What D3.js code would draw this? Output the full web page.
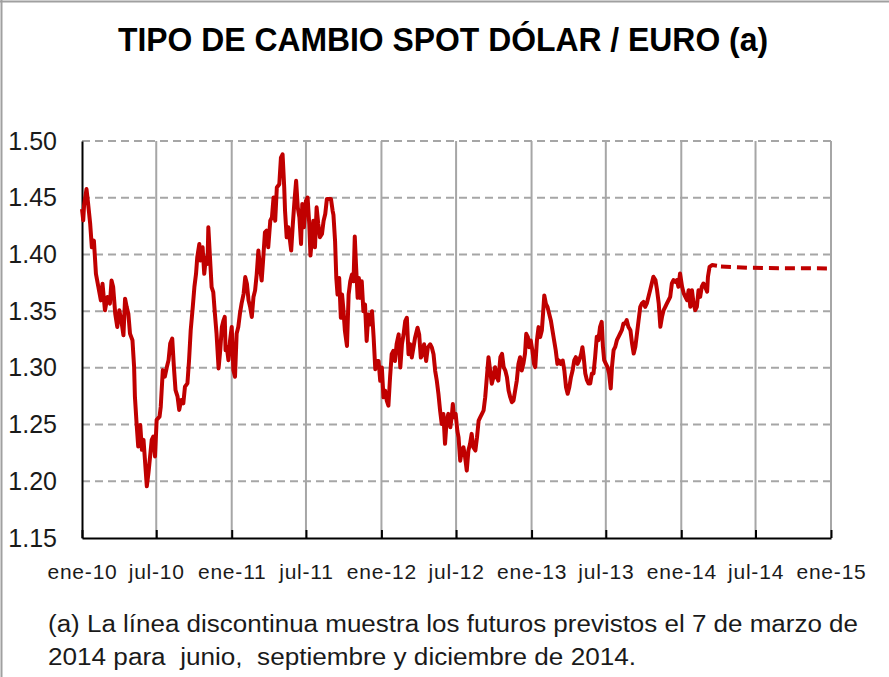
<!DOCTYPE html>
<html><head><meta charset="utf-8">
<script src="https://cdn.jsdelivr.net/npm/d3@7"></script>
<style>
html,body{margin:0;padding:0;background:#fff;}
svg{display:block;}
text{font-family:"Liberation Sans",Arial,Helvetica,sans-serif;}
</style></head>
<body>
<svg id="chart" width="889" height="677"></svg>
<script>
const dates = [
"2010-01-01","2010-01-04","2010-01-06","2010-01-12","2010-01-16","2010-01-21","2010-01-25","2010-01-30","2010-02-01","2010-02-04",
"2010-02-10","2010-02-16","2010-02-20","2010-02-26","2010-03-04","2010-03-10","2010-03-14","2010-03-18","2010-03-23","2010-03-28",
"2010-04-02","2010-04-08","2010-04-12","2010-04-16","2010-04-20","2010-04-24","2010-04-28","2010-05-04","2010-05-08","2010-05-10",
"2010-05-14","2010-05-18","2010-05-23","2010-05-27","2010-05-31","2010-06-04","2010-06-08","2010-06-12","2010-06-16","2010-06-20",
"2010-06-24","2010-06-28","2010-07-02","2010-07-09","2010-07-12","2010-07-17","2010-07-22","2010-07-27","2010-07-31","2010-08-04",
"2010-08-09","2010-08-13","2010-08-17","2010-08-22","2010-08-26","2010-08-31","2010-09-05","2010-09-09","2010-09-15","2010-09-19",
"2010-09-23","2010-09-28","2010-10-02","2010-10-06","2010-10-09","2010-10-14","2010-10-17","2010-10-22","2010-10-26","2010-10-30",
"2010-11-03","2010-11-05","2010-11-09","2010-11-13","2010-11-17","2010-11-21","2010-11-25","2010-11-30","2010-12-04","2010-12-08",
"2010-12-12","2010-12-15","2010-12-17","2010-12-20","2010-12-24","2010-12-28","2011-01-01","2011-01-05","2011-01-09","2011-01-13",
"2011-01-17","2011-01-21","2011-01-25","2011-01-30","2011-02-03","2011-02-07","2011-02-11","2011-02-15","2011-02-19","2011-02-23",
"2011-02-27","2011-03-03","2011-03-07","2011-03-11","2011-03-15","2011-03-19","2011-03-23","2011-03-27","2011-03-31","2011-04-05",
"2011-04-09","2011-04-13","2011-04-17","2011-04-21","2011-04-27","2011-05-01","2011-05-05","2011-05-09","2011-05-11","2011-05-15",
"2011-05-19","2011-05-23","2011-05-26","2011-05-30","2011-06-03","2011-06-07","2011-06-11","2011-06-15","2011-06-19","2011-06-22",
"2011-06-26","2011-07-01","2011-07-05","2011-07-09","2011-07-12","2011-07-15","2011-07-19","2011-07-23","2011-07-27","2011-07-31",
"2011-08-04","2011-08-09","2011-08-13","2011-08-17","2011-08-21","2011-08-26","2011-08-31","2011-09-04","2011-09-06","2011-09-10",
"2011-09-13","2011-09-16","2011-09-20","2011-09-24","2011-09-27","2011-09-30","2011-10-04","2011-10-09","2011-10-13","2011-10-17",
"2011-10-21","2011-10-25","2011-10-28","2011-10-31","2011-11-04","2011-11-07","2011-11-10","2011-11-14","2011-11-18","2011-11-22",
"2011-11-26","2011-11-30","2011-12-04","2011-12-09","2011-12-13","2011-12-17","2011-12-21","2011-12-25","2011-12-29","2012-01-02",
"2012-01-06","2012-01-10","2012-01-14","2012-01-18","2012-01-22","2012-01-26","2012-01-30","2012-02-03","2012-02-07","2012-02-12",
"2012-02-16","2012-02-20","2012-02-24","2012-02-28","2012-03-03","2012-03-07","2012-03-11","2012-03-15","2012-03-19","2012-03-23",
"2012-03-29","2012-04-02","2012-04-06","2012-04-10","2012-04-14","2012-04-19","2012-04-23","2012-04-29","2012-05-03","2012-05-07",
"2012-05-11","2012-05-15","2012-05-19","2012-05-23","2012-05-27","2012-05-31","2012-06-04","2012-06-08","2012-06-12","2012-06-17",
"2012-06-21","2012-06-23","2012-06-26","2012-06-30","2012-07-04","2012-07-07","2012-07-11","2012-07-15","2012-07-19","2012-07-23",
"2012-07-27","2012-07-31","2012-08-04","2012-08-08","2012-08-12","2012-08-17","2012-08-21","2012-08-25","2012-08-29","2012-09-02",
"2012-09-06","2012-09-10","2012-09-14","2012-09-18","2012-09-22","2012-09-26","2012-09-30","2012-10-04","2012-10-08","2012-10-12",
"2012-10-17","2012-10-21","2012-10-25","2012-10-29","2012-11-02","2012-11-06","2012-11-10","2012-11-14","2012-11-18","2012-11-22",
"2012-11-26","2012-11-30","2012-12-04","2012-12-08","2012-12-12","2012-12-16","2012-12-19","2012-12-23","2012-12-26","2012-12-30",
"2013-01-03","2013-01-07","2013-01-10","2013-01-14","2013-01-18","2013-01-22","2013-01-26","2013-01-29","2013-02-01","2013-02-05",
"2013-02-09","2013-02-13","2013-02-17","2013-02-21","2013-02-25","2013-03-01","2013-03-05","2013-03-09","2013-03-13","2013-03-18",
"2013-03-22","2013-03-26","2013-03-30","2013-04-03","2013-04-07","2013-04-11","2013-04-15","2013-04-19","2013-04-23","2013-04-27",
"2013-05-02","2013-05-05","2013-05-08","2013-05-12","2013-05-16","2013-05-20","2013-05-24","2013-05-28","2013-06-01","2013-06-05",
"2013-06-09","2013-06-13","2013-06-17","2013-06-21","2013-06-24","2013-06-27","2013-07-01","2013-07-05","2013-07-09","2013-07-13",
"2013-07-16","2013-07-20","2013-07-24","2013-07-28","2013-08-01","2013-08-05","2013-08-09","2013-08-13","2013-08-17","2013-08-21",
"2013-08-25","2013-08-30","2013-09-03","2013-09-07","2013-09-11","2013-09-15","2013-09-19","2013-09-23","2013-09-27","2013-10-01",
"2013-10-05","2013-10-09","2013-10-13","2013-10-17","2013-10-21","2013-10-25","2013-10-30","2013-11-03","2013-11-07","2013-11-11",
"2013-11-15","2013-11-19","2013-11-23","2013-11-27","2013-12-01","2013-12-05","2013-12-09","2013-12-13","2013-12-17","2013-12-21",
"2013-12-25","2013-12-29","2014-01-03","2014-01-07","2014-01-11","2014-01-15","2014-01-19","2014-01-23","2014-01-27","2014-01-31",
"2014-02-04","2014-02-08","2014-02-12","2014-02-16","2014-02-20","2014-02-24","2014-02-28","2014-03-05","2014-03-07","2014-03-11",
"2014-03-17","2014-03-29"
];
const values = [
1.440,1.430,1.443,1.4576,1.4444,1.4268,1.4063,1.4122,1.4005,1.3829,
1.3712,1.3595,1.3741,1.3507,1.3624,1.3566,1.3770,1.3712,1.3478,1.3361,
1.3507,1.3390,1.3287,1.3610,1.3536,1.3478,1.3302,1.3244,1.3009,1.2746,
1.2512,1.2307,1.2497,1.2278,1.2365,1.2160,1.1956,1.2073,1.2219,1.2365,
1.2395,1.2219,1.2541,1.2570,1.2658,1.2980,1.2922,1.3009,1.3068,1.3214,
1.3258,1.3009,1.2804,1.2746,1.2629,1.2717,1.2687,1.2834,1.2863,1.3068,
1.3331,1.3536,1.3712,1.3829,1.3975,1.4092,1.3946,1.4063,1.3829,1.3975,
1.3917,1.4239,1.3975,1.3712,1.3668,1.3478,1.3302,1.2995,1.3156,1.3361,
1.3419,1.3449,1.3156,1.3185,1.3068,1.3244,1.3361,1.2980,1.2922,1.3302,
1.3361,1.3478,1.3566,1.3653,1.3800,1.3741,1.3595,1.3536,1.3449,1.3624,
1.3683,1.3829,1.4034,1.3888,1.3770,1.3975,1.4195,1.4210,1.4063,1.4297,
1.4327,1.4502,1.4297,1.4590,1.4619,1.4854,1.4883,1.4590,1.4385,1.4151,
1.4239,1.4122,1.4034,1.4268,1.4473,1.4649,1.4415,1.4327,1.4092,1.4444,
1.4239,1.4473,1.4502,1.4268,1.3990,1.4122,1.4297,1.4063,1.4415,1.4268,
1.4151,1.4180,1.4297,1.4356,1.4488,1.4488,1.4488,1.4385,1.4348,1.4114,
1.3792,1.3646,1.3792,1.3442,1.3646,1.3529,1.3325,1.3193,1.3646,1.3763,
1.3822,1.3763,1.4158,1.3909,1.3617,1.3792,1.3617,1.3763,1.3500,1.3558,
1.3237,1.3471,1.3383,1.3500,1.3266,1.2988,1.3061,1.3061,1.2886,1.3003,
1.2740,1.2798,1.2711,1.2667,1.2915,1.3120,1.3149,1.3061,1.3208,1.3295,
1.3003,1.3208,1.3295,1.3412,1.3442,1.3120,1.3208,1.3091,1.3178,1.3266,
1.3354,1.3295,1.3091,1.3120,1.3208,1.3061,1.3178,1.3208,1.3178,1.3120,
1.2974,1.2886,1.2769,1.2623,1.2506,1.2594,1.2330,1.2535,1.2594,1.2477,
1.2594,1.2681,1.2564,1.2594,1.2447,1.2388,1.2182,1.2271,1.2300,1.2212,
1.2094,1.2271,1.2329,1.2418,1.2300,1.2271,1.2388,1.2535,1.2565,1.2594,
1.2624,1.2741,1.2918,1.3094,1.2976,1.2859,1.2918,1.3006,1.2918,1.2888,
1.3094,1.3124,1.3006,1.2976,1.2918,1.2800,1.2741,1.2697,1.2712,1.2800,
1.2888,1.3035,1.3094,1.2976,1.3035,1.3124,1.3300,1.3271,1.3182,1.3241,
1.3153,1.3035,1.3006,1.3241,1.3359,1.3271,1.3329,1.3476,1.3638,1.3565,
1.3535,1.3476,1.3418,1.3329,1.3241,1.3153,1.3035,1.3065,1.3035,1.3065,
1.2976,1.2829,1.2771,1.2829,1.2918,1.2976,1.3065,1.3094,1.3035,1.3065,
1.3124,1.3182,1.3097,1.2950,1.2891,1.2862,1.2862,1.2950,1.2950,1.3097,
1.3274,1.3244,1.3362,1.3406,1.3185,1.3068,1.3038,1.3009,1.2950,1.2818,
1.3009,1.3156,1.3185,1.3244,1.3274,1.3303,1.3332,1.3391,1.3391,1.3421,
1.3362,1.3332,1.3215,1.3126,1.3185,1.3303,1.3421,1.3538,1.3568,1.3582,
1.3538,1.3568,1.3626,1.3685,1.3744,1.3803,1.3774,1.3685,1.3568,1.3362,
1.3450,1.3509,1.3538,1.3568,1.3597,1.3626,1.3744,1.3774,1.3759,1.3774,
1.3715,1.3832,1.3715,1.3656,1.3626,1.3597,1.3685,1.3538,1.3685,1.3568,
1.3509,1.3538,1.3685,1.3626,1.3715,1.3744,1.3715,1.3671,1.3803,1.3891,
1.3906,1.3900
];
const forecastDates = ["2014-03-29","2014-06-15","2014-09-15","2014-12-23"];
const forecastValues = [1.3895,1.3882,1.3878,1.3877];
const xTickDates = ["2010-01-01","2010-07-01","2011-01-01","2011-07-01","2012-01-01","2012-07-01","2013-01-01","2013-07-01","2014-01-01","2014-07-01","2015-01-01"];
const xTickLabels = ["ene-10","jul-10","ene-11","jul-11","ene-12","jul-12","ene-13","jul-13","ene-14","jul-14","ene-15"];
const yTicks = [1.15,1.20,1.25,1.30,1.35,1.40,1.45,1.50];
const title = "TIPO DE CAMBIO SPOT DÓLAR / EURO (a)";
const noteLines = ["(a) La línea discontinua muestra los futuros previstos el 7 de marzo de",
                   "2014 para  junio,  septiembre y diciembre de 2014."];

const parse = d3.timeParse("%Y-%m-%d");
const series = dates.map((d,i)=>({date:parse(d), value:values[i]}));
const forecast = forecastDates.map((d,i)=>({date:parse(d), value:forecastValues[i]}));

const svg = d3.select("#chart");
const margin = {left:82, right:58, top:141, bottom:139};
const W = 889, H = 677;
const x = d3.scaleTime().domain([parse("2010-01-01"), parse("2015-01-01")]).range([margin.left, W - margin.right]);
const y = d3.scaleLinear().domain([1.15, 1.50]).range([H - margin.bottom, margin.top]);

// frame lines
svg.append("line").attr("x1",0).attr("x2",W).attr("y1",1.5).attr("y2",1.5).attr("stroke","#a0a0a0").attr("stroke-width",2);
svg.append("line").attr("x1",1.5).attr("x2",1.5).attr("y1",0).attr("y2",H).attr("stroke","#a0a0a0").attr("stroke-width",2);

// title
svg.append("text").attr("x",443).attr("y",51).attr("text-anchor","middle")
  .attr("font-size",34).attr("font-weight","bold").attr("fill","#000")
  .attr("textLength",650).attr("lengthAdjust","spacingAndGlyphs").text(title);

// horizontal dashed gridlines
svg.append("g").selectAll("line").data(yTicks.filter(v=>v>1.15)).join("line")
  .attr("x1",x.range()[0]).attr("x2",x.range()[1]+1)
  .attr("y1",d=>y(d)).attr("y2",d=>y(d))
  .attr("stroke","#a6a6a6").attr("stroke-width",2).attr("stroke-dasharray","8,5");

// vertical gridlines
svg.append("g").selectAll("line").data(xTickDates.slice(1).map(parse)).join("line")
  .attr("x1",d=>x(d)).attr("x2",d=>x(d))
  .attr("y1",y(1.50)).attr("y2",y(1.15))
  .attr("stroke","#a6a6a6").attr("stroke-width",2);

// x axis
const xAxis = d3.axisBottom(x).tickValues(xTickDates.map(parse)).tickFormat((d,i)=>xTickLabels[i]).tickSizeInner(-8).tickSizeOuter(0).tickPadding(26);
const gx = svg.append("g").attr("transform",`translate(0,${y(1.15)})`).call(xAxis);
gx.select(".domain").attr("stroke","#000").attr("stroke-width",2);
gx.selectAll(".tick line").attr("stroke","#000").attr("stroke-width",2);
gx.selectAll(".tick text").attr("font-size",21).attr("letter-spacing","0.8px").attr("fill","#1a1a1a")
  .attr("font-family","'Liberation Sans', Arial, sans-serif");

// y axis
const yAxis = d3.axisLeft(y).tickValues(yTicks).tickFormat(d3.format(".2f")).tickSize(0).tickPadding(25);
const gy = svg.append("g").attr("transform",`translate(${x.range()[0]},0)`).call(yAxis);
gy.select(".domain").attr("stroke","#000").attr("stroke-width",2);
gy.selectAll(".tick text").attr("font-size",25).attr("fill","#1a1a1a")
  .attr("font-family","'Liberation Sans', Arial, sans-serif");

// series line
const line = d3.line().x(d=>x(d.date)).y(d=>y(d.value));
svg.append("path").datum(series).attr("d",line).attr("fill","none")
  .attr("stroke","#c00000").attr("stroke-width",4).attr("stroke-linejoin","round");
svg.append("path").datum(forecast).attr("d",line).attr("fill","none")
  .attr("stroke","#c00000").attr("stroke-width",4).attr("stroke-dasharray","10,6").attr("stroke-dashoffset",-4);

// footnote
svg.append("text").attr("x",48).attr("y",632).attr("font-size",23).attr("fill","#1a1a1a")
  .attr("textLength",810).attr("lengthAdjust","spacingAndGlyphs").text(noteLines[0]);
svg.append("text").attr("x",48).attr("y",665).attr("font-size",23).attr("fill","#1a1a1a")
  .attr("textLength",588).attr("lengthAdjust","spacingAndGlyphs")
  .style("white-space","pre").text(noteLines[1]);
</script>
</body></html>
